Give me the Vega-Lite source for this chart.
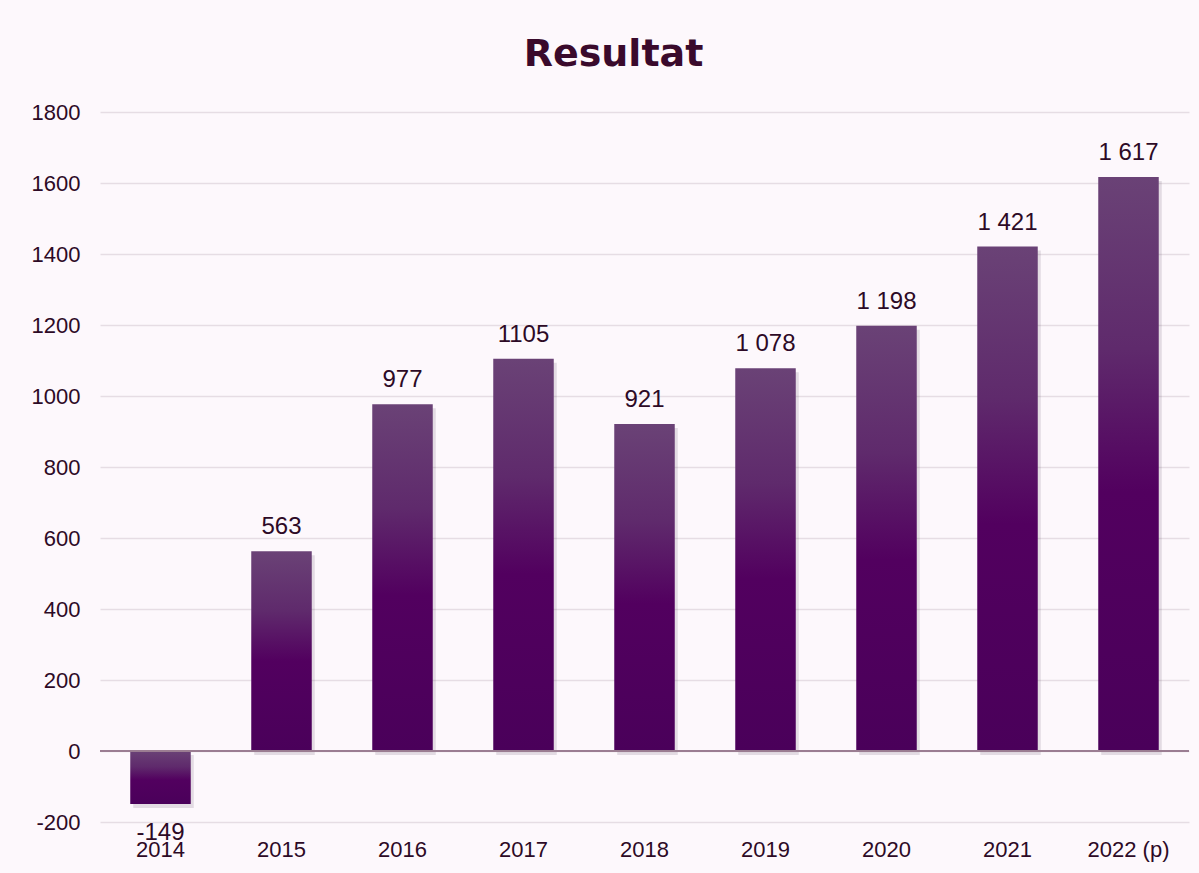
{
  "$schema": "https://vega.github.io/schema/vega-lite/v6.json",
  "width": 1089,
  "height": 710,
  "autosize": "none",
  "padding": {"left": 100, "top": 112, "right": 10, "bottom": 51},
  "background": "#fdf8fc",
  "title": {
    "text": "Resultat",
    "fontSize": 38,
    "fontWeight": "bold",
    "font": "DejaVu Sans",
    "color": "#3a0a2c",
    "offset": 27,
    "dx": -31,
    "anchor": "middle"
  },
  "config": {
    "view": {"stroke": null},
    "font": "Liberation Sans",
    "axis": {"labelFont": "Liberation Sans", "labelColor": "#2d0a26", "labelFontSize": 22}
  },
  "data": {
    "values": [
      {"year": "2014", "value": -149, "label": "-149"},
      {"year": "2015", "value": 563, "label": "563"},
      {"year": "2016", "value": 977, "label": "977"},
      {"year": "2017", "value": 1105, "label": "1105"},
      {"year": "2018", "value": 921, "label": "921"},
      {"year": "2019", "value": 1078, "label": "1 078"},
      {"year": "2020", "value": 1198, "label": "1 198"},
      {"year": "2021", "value": 1421, "label": "1 421"},
      {"year": "2022 (p)", "value": 1617, "label": "1 617"}
    ]
  },
  "encoding": {
    "x": {
      "field": "year",
      "type": "nominal",
      "sort": null,
      "scale": {"paddingInner": 0.5, "paddingOuter": 0.25},
      "axis": {"title": null, "labelAngle": 0, "domain": false, "ticks": false, "labelPadding": 17, "grid": false}
    }
  },
  "layer": [
    {
      "mark": {"type": "bar", "color": "#2a1030", "opacity": 0.12, "xOffset": 3, "yOffset": 4},
      "encoding": {
        "y": {
          "field": "value",
          "type": "quantitative",
          "scale": {"domain": [-200, 1800], "nice": false},
          "axis": {"title": null, "values": [-200, 0, 200, 400, 600, 800, 1000, 1200, 1400, 1600, 1800], "labelExpr": "'' + datum.value", "domain": false, "ticks": false, "labelPadding": 20, "gridColor": "#e6dde4", "gridWidth": 1.5}
        }
      }
    },
    {
      "mark": {
        "type": "bar",
        "color": {
          "gradient": "linear",
          "x1": 0, "y1": 0, "x2": 0, "y2": 1,
          "stops": [
            {"offset": 0, "color": "#6a4276"},
            {"offset": 0.3, "color": "#5f2a6c"},
            {"offset": 0.55, "color": "#52005f"},
            {"offset": 1, "color": "#4a005a"}
          ]
        }
      },
      "encoding": {
        "y": {"field": "value", "type": "quantitative"}
      }
    },
    {
      "mark": {"type": "rule", "color": "#9b7d92", "strokeWidth": 2},
      "encoding": {"y": {"datum": 0, "type": "quantitative"}, "x": {"value": 0}, "x2": {"value": 1089}}
    },
    {
      "transform": [{"filter": "datum.value >= 0"}],
      "mark": {"type": "text", "fontSize": 24, "color": "#2d0a26", "baseline": "alphabetic", "dy": -17},
      "encoding": {
        "y": {"field": "value", "type": "quantitative"},
        "text": {"field": "label"}
      }
    },
    {
      "transform": [{"filter": "datum.value < 0"}],
      "mark": {"type": "text", "fontSize": 24, "color": "#2d0a26", "baseline": "alphabetic", "dy": 36},
      "encoding": {
        "y": {"field": "value", "type": "quantitative"},
        "text": {"field": "label"}
      }
    }
  ]
}
